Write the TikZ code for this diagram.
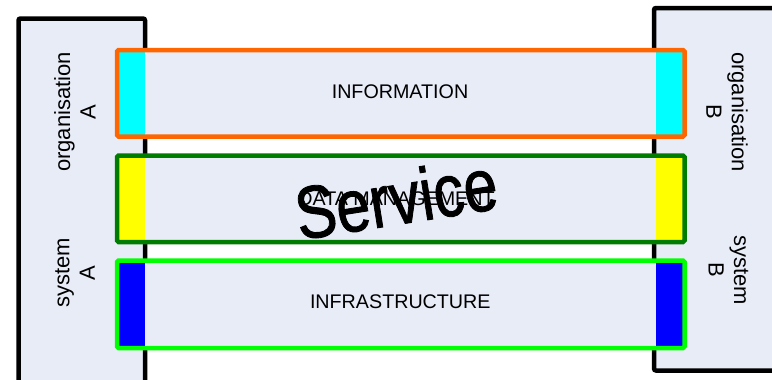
\documentclass[tikz,border=0pt]{standalone}
\usepackage{fontspec}
\setmainfont{Liberation Sans}
\newfontface\servicefont[FakeBold=1.2]{Liberation Sans}
\definecolor{boxfill}{RGB}{231,236,247}
\definecolor{infoorange}{RGB}{255,102,0}
\definecolor{datagreen}{RGB}{0,125,0}
\definecolor{infragreen}{RGB}{0,255,0}
\definecolor{infocyan}{RGB}{0,255,255}
\definecolor{datayellow}{RGB}{255,255,0}
\definecolor{infrablue}{RGB}{0,0,255}
\tikzset{
  sidebox/.style={line width=4.5pt,rounded corners=2pt,fill=boxfill,draw=black},
  band/.style={line width=4.5pt,rounded corners=1.5pt},
  bandtext/.style={font=\fontsize{19.7}{22}\selectfont},
  sidetext/.style={align=center,font=\fontsize{22}{25.5}\selectfont}
}
\begin{document}
\begin{tikzpicture}[x=1pt,y=-1pt]
                    \useasboundingbox (0,0) rectangle (772,380);
                    \draw[sidebox] (18.5,18.5) rectangle (145,392);
                    \draw[sidebox] (654,8) rectangle (785,370.5);
                    \fill[boxfill] (117,50) rectangle (684.5,136.5);
                    \fill[infocyan] (119,52) rectangle (145,134.5);
                    \fill[infocyan] (656,52) rectangle (682.5,134.5);
                    \draw[band,infoorange] (117,50) rectangle (684.5,136.5);
                    \fill[boxfill] (117,155.5) rectangle (684.5,242);
                    \fill[datayellow] (119,157.5) rectangle (145,240);
                    \fill[datayellow] (656,157.5) rectangle (682.5,240);
                    \draw[band,datagreen] (117,155.5) rectangle (684.5,242);
                    \fill[boxfill] (117,260.5) rectangle (684.5,348);
                    \fill[infrablue] (119,262.5) rectangle (145,346);
                    \fill[infrablue] (656,262.5) rectangle (682.5,346);
                    \draw[band,infragreen] (117,260.5) rectangle (684.5,348);
                    \node[bandtext] (info) at (400,92) {INFORMATION};
                    \node[bandtext] (data) at (396.5,198.5) {DATA MANAGEMENT};
                    \node[bandtext] (infra) at (400.3,302) {INFRASTRUCTURE};
                    \node[sidetext,rotate=90] (orgA) at (75,112) {organisation\\A};
                    \node[sidetext,rotate=90] (sysA) at (75,273) {system\\A};
                    \node[sidetext,rotate=-90] (orgB) at (727,112) {organisation\\B};
                    \node[sidetext,rotate=-90] (sysB) at (728.5,270) {system\\B};
                    \node[rotate=9,font=\servicefont\fontsize{61}{61}\selectfont] (service) at (396,198) {\scalebox{1}[1.22]{Service}};
                \end{tikzpicture}
\end{document}
